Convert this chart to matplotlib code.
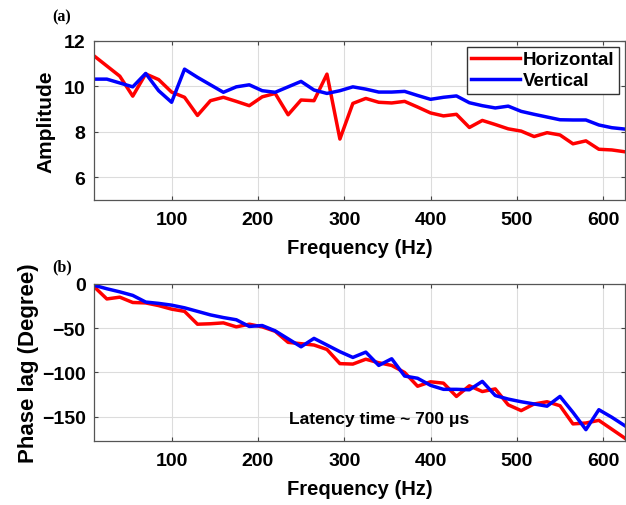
import numpy as np
import matplotlib.pyplot as plt

plt.rcParams['font.family'] = ['Liberation Sans', 'DejaVu Sans']
plt.rcParams['font.weight'] = 'bold'

# frequency points (Hz), 15 Hz step
freq = list(range(10, 626, 15))

amp_h = [11.35, 10.9, 10.45, 9.57, 10.55, 10.3, 9.75, 9.52, 8.72, 9.37, 9.52,
         9.34, 9.15, 9.54, 9.69, 8.75, 9.40, 9.37, 10.54, 7.68, 9.25,
         9.47, 9.30, 9.27, 9.34, 9.09, 8.83, 8.70, 8.77, 8.19, 8.50,
         8.32, 8.13, 8.03, 7.79, 7.96, 7.86, 7.47, 7.60, 7.23, 7.20, 7.12]
amp_v = [10.32, 10.32, 10.15, 9.98, 10.57, 9.81, 9.30, 10.76, 10.40, 10.07, 9.74,
         9.98, 10.07, 9.81, 9.74, 9.98, 10.22, 9.84, 9.69, 9.81, 9.98,
         9.88, 9.75, 9.75, 9.78, 9.60, 9.43, 9.52, 9.58, 9.28, 9.15,
         9.05, 9.13, 8.90, 8.77, 8.65, 8.53, 8.52, 8.52, 8.30, 8.18, 8.12]

phase_h = [-3, -17, -15, -21, -21.5, -24.5, -28.5, -31, -45.5, -45, -44,
           -48.5, -45.5, -48.5, -53.5, -66, -67.5, -69, -74, -90, -90.5,
           -85, -89, -92, -100, -115.5, -110.5, -112, -127, -115, -121.5,
           -118.5, -136.5, -143, -135.5, -133, -137.5, -158, -157, -154, -164, -174]
phase_v = [-1.5, -5.5, -9, -13, -20.5, -22, -24, -27, -31, -35, -38,
           -40.5, -48, -47, -53, -62, -71, -61.5, -69, -76.5, -83,
           -77, -92, -84.5, -104, -106.5, -114.5, -119, -119, -119.5, -110,
           -126, -130, -133, -135.5, -138, -127, -145, -164.5, -142, -150.5, -160]

fig = plt.figure(figsize=(6.26, 5.06), dpi=100)
ax1 = fig.add_axes([0.150, 0.603, 0.848, 0.314])
ax2 = fig.add_axes([0.150, 0.127, 0.848, 0.310])

lw = 2.5
ax1.plot(freq, amp_h, color='#ff0000', lw=lw, label='Horizontal')
ax1.plot(freq, amp_v, color='#0000ff', lw=lw, label='Vertical')
ax2.plot(freq, phase_h, color='#ff0000', lw=lw)
ax2.plot(freq, phase_v, color='#0000ff', lw=lw)

for ax in (ax1, ax2):
    ax.set_xlim(10, 625)
    ax.set_xticks([100, 200, 300, 400, 500, 600])
    ax.grid(True, color='#dcdcdc', lw=0.8)
    ax.set_axisbelow(True)
    ax.tick_params(direction='in', top=True, right=True, length=3,
                   labelsize=14, color='#444444')
    ax.tick_params(axis='x', pad=8)
    ax.tick_params(axis='y', pad=6)
    for s in ax.spines.values():
        s.set_color('#555555')
        s.set_linewidth(0.9)
    ax.set_xlabel('Frequency (Hz)', fontsize=14.5, fontweight='bold', labelpad=7)

ax1.set_ylim(5, 12)
ax1.set_yticks([6, 8, 10, 12])
ax1.set_ylabel('Amplitude', fontsize=15, fontweight='bold', labelpad=6)
ax1.legend(loc='upper right', fontsize=13.5, frameon=True, fancybox=False,
           edgecolor='#333333', framealpha=1, handlelength=2.6,
           handletextpad=0.15, borderpad=0.25, labelspacing=0.2,
           borderaxespad=0.3)

ax2.set_ylim(-177, 0)
ax2.set_yticks([-150, -100, -50, 0])
ax2.set_ylabel('Phase lag (Degree)', fontsize=16, fontweight='bold', labelpad=2)
ax2.text(340, -152, 'Latency time ~ 700 \u03bcs', fontsize=12.5,
         fontweight='bold', ha='center', va='center')

fig.text(0.083, 0.965, '(a)', family='Liberation Serif', fontsize=11.5,
         fontweight='bold', ha='left', va='center')
fig.text(0.083, 0.472, '(b)', family='Liberation Serif', fontsize=11.5,
         fontweight='bold', ha='left', va='center')

fig.savefig('out.png', dpi=100)
